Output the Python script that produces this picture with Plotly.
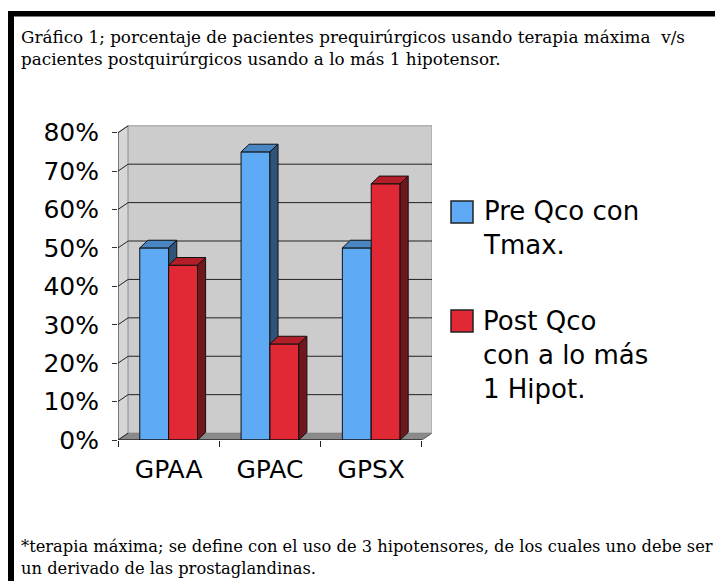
import plotly.graph_objects as go

# ---------------- data ----------------
categories = ["GPAA", "GPAC", "GPSX"]
pre_values = [50, 75, 50]          # Pre Qco con Tmax.
post_values = [45.5, 25, 66.7]     # Post Qco con a lo más 1 Hipot.
y_ticks = [0, 10, 20, 30, 40, 50, 60, 70, 80]
series_names = ["Pre Qco con<br>Tmax.", "Post Qco<br>con a lo más<br>1 Hipot."]
title_lines = [
    "Gráfico 1; porcentaje de pacientes prequirúrgicos usando terapia máxima  v/s",
    "pacientes postquirúrgicos usando a lo más 1 hipotensor.",
]
footer_lines = [
    "*terapia máxima; se define con el uso de 3 hipotensores, de los cuales uno debe ser",
    "un derivado de las prostaglandinas.",
]

# ---------------- geometry / style ----------------
W_FIG, H_FIG = 723, 581
PAGE = 8                                   # page margin of the html body
L, T, PW, PH = 118 - PAGE, 125 - PAGE, 314, 315   # plot area in figure pixels
XR = [-0.5, 2.6]
YR = [0, 82]
BAR_W = 0.285
BAR_DX, BAR_DY = 0.08, 2.0                 # 3-D depth of bars
WALL_DX, WALL_DY = 0.1, 1.8                # depth of back wall
YMAX = 80

blue = dict(front="#5eaaf5", top="#4a86c2", side="#2f5379")
red = dict(front="#e02935", top="#b21f29", side="#6f171c")


def px(xp):
    """reference window x pixel -> paper coordinate"""
    return (xp - PAGE - L) / PW


def py(yp):
    """reference window y pixel -> paper coordinate"""
    return (T + PH - (yp - PAGE)) / PH


def faces(vals, offset):
    fx, fy, tx, ty, sx, sy = [], [], [], [], [], []
    for i, v in enumerate(vals):
        x0 = i + offset
        x1 = x0 + BAR_W
        fx += [x0, x1, x1, x0, x0, None]
        fy += [0, 0, v, v, 0, None]
        tx += [x0, x1, x1 + BAR_DX, x0 + BAR_DX, x0, None]
        ty += [v, v, v + BAR_DY, v + BAR_DY, v, None]
        sx += [x1, x1 + BAR_DX, x1 + BAR_DX, x1, x1, None]
        sy += [0, BAR_DY, v + BAR_DY, v, 0, None]
    return (fx, fy), (tx, ty), (sx, sy)


fig = go.Figure()
for vals, off, col, name in [(pre_values, -BAR_W, blue, series_names[0]),
                             (post_values, 0.0, red, series_names[1])]:
    front, top, side = faces(vals, off)
    for (xs, ys), c in [(front, col["front"]), (top, col["top"]), (side, col["side"])]:
        fig.add_trace(go.Scatter(
            x=xs, y=ys, mode="lines", fill="toself", fillcolor=c,
            line=dict(color="#111111", width=1), name=name,
            showlegend=False, hoverinfo="skip"))

shapes = []
# floor
shapes.append(dict(type="path", xref="x", yref="y", layer="below",
                   path=f"M {XR[0]} 0 L 2.5 0 L {2.5 + WALL_DX} {WALL_DY} L {XR[0] + WALL_DX} {WALL_DY} Z",
                   fillcolor="#8a8a8a", line=dict(color="#555555", width=1)))
# left wall
shapes.append(dict(type="path", xref="x", yref="y", layer="below",
                   path=f"M {XR[0]} 0 L {XR[0] + WALL_DX} {WALL_DY} L {XR[0] + WALL_DX} {YMAX + WALL_DY} L {XR[0]} {YMAX} Z",
                   fillcolor="#d6d6d6", line=dict(color="#9a9a9a", width=1)))
# back wall
shapes.append(dict(type="rect", xref="x", yref="y", layer="below",
                   x0=XR[0] + WALL_DX, x1=2.5 + WALL_DX, y0=WALL_DY, y1=YMAX + WALL_DY,
                   fillcolor="#cccccc", line=dict(color="#9a9a9a", width=1)))
# grid lines on walls
for v in y_ticks[1:-1]:
    shapes.append(dict(type="line", xref="x", yref="y", layer="below",
                       x0=XR[0] + WALL_DX, x1=2.5 + WALL_DX, y0=v + WALL_DY, y1=v + WALL_DY,
                       line=dict(color="#222222", width=1)))
for v in y_ticks:
    shapes.append(dict(type="line", xref="x", yref="y", layer="below",
                       x0=XR[0], x1=XR[0] + WALL_DX, y0=v, y1=v + WALL_DY,
                       line=dict(color="#222222", width=1)))
# axis lines
shapes.append(dict(type="line", xref="x", yref="y", x0=XR[0], x1=XR[0], y0=0, y1=YMAX,
                   line=dict(color="#333333", width=1)))
shapes.append(dict(type="line", xref="x", yref="y", x0=XR[0], x1=2.5, y0=0, y1=0,
                   line=dict(color="#111111", width=1.2)))

# frame (black border band top and left)
shapes.append(dict(type="rect", xref="paper", yref="paper",
                   x0=px(6), x1=px(740), y0=py(11), y1=py(16.5),
                   fillcolor="black", line=dict(width=0)))
shapes.append(dict(type="rect", xref="paper", yref="paper",
                   x0=px(6), x1=px(14), y0=py(11), y1=py(600),
                   fillcolor="black", line=dict(width=0)))

# legend squares
for cy, col in [(212, blue["front"]), (321, red["front"])]:
    shapes.append(dict(type="rect", xref="paper", yref="paper",
                       x0=px(451), x1=px(473), y0=py(cy + 11), y1=py(cy - 11),
                       fillcolor=col, line=dict(color="#222222", width=1.5)))

annotations = []
for txt, cy in [(series_names[0], 228), (series_names[1], 355)]:
    annotations.append(dict(text=txt, xref="paper", yref="paper", x=px(481), y=py(cy),
                            xanchor="left", yanchor="middle", align="left", showarrow=False,
                            font=dict(family="DejaVu Sans", size=26, color="black")))
for txt, cy in zip(title_lines, [37, 59]):
    annotations.append(dict(text=txt, xref="paper", yref="paper", x=px(19), y=py(cy),
                            xanchor="left", yanchor="middle", showarrow=False,
                            font=dict(family="DejaVu Serif", size=16.8, color="black")))
for txt, cy in zip(footer_lines, [546, 568]):
    annotations.append(dict(text=txt, xref="paper", yref="paper", x=px(19), y=py(cy),
                            xanchor="left", yanchor="middle", showarrow=False,
                            font=dict(family="DejaVu Serif", size=16.3, color="black")))

fig.update_layout(
    width=W_FIG, height=H_FIG,
    margin=dict(l=L, r=W_FIG - L - PW, t=T, b=H_FIG - T - PH),
    paper_bgcolor="white", plot_bgcolor="rgba(0,0,0,0)",
    showlegend=False, shapes=shapes, annotations=annotations,
    xaxis=dict(range=XR, tickmode="array", tickvals=list(range(len(categories))),
               ticktext=categories, ticks="", showgrid=False, zeroline=False,
               showline=False, ticklabelstandoff=12,
               tickfont=dict(family="DejaVu Sans", size=25, color="black"),
               minor=dict(tickmode="array", tickvals=[-0.5, 0.5, 1.5, 2.5], ticks="outside",
                          ticklen=6, tickcolor="#222222", tickwidth=1, showgrid=False)),
    yaxis=dict(range=YR, tickmode="array", tickvals=y_ticks,
               ticktext=[f"{v}%" for v in y_ticks], ticks="outside", ticklen=5,
               tickcolor="#333333", showgrid=False, zeroline=False, showline=False,
               ticklabelstandoff=8,
               tickfont=dict(family="DejaVu Sans", size=25, color="black")),
)

fig.write_html("out.html")
